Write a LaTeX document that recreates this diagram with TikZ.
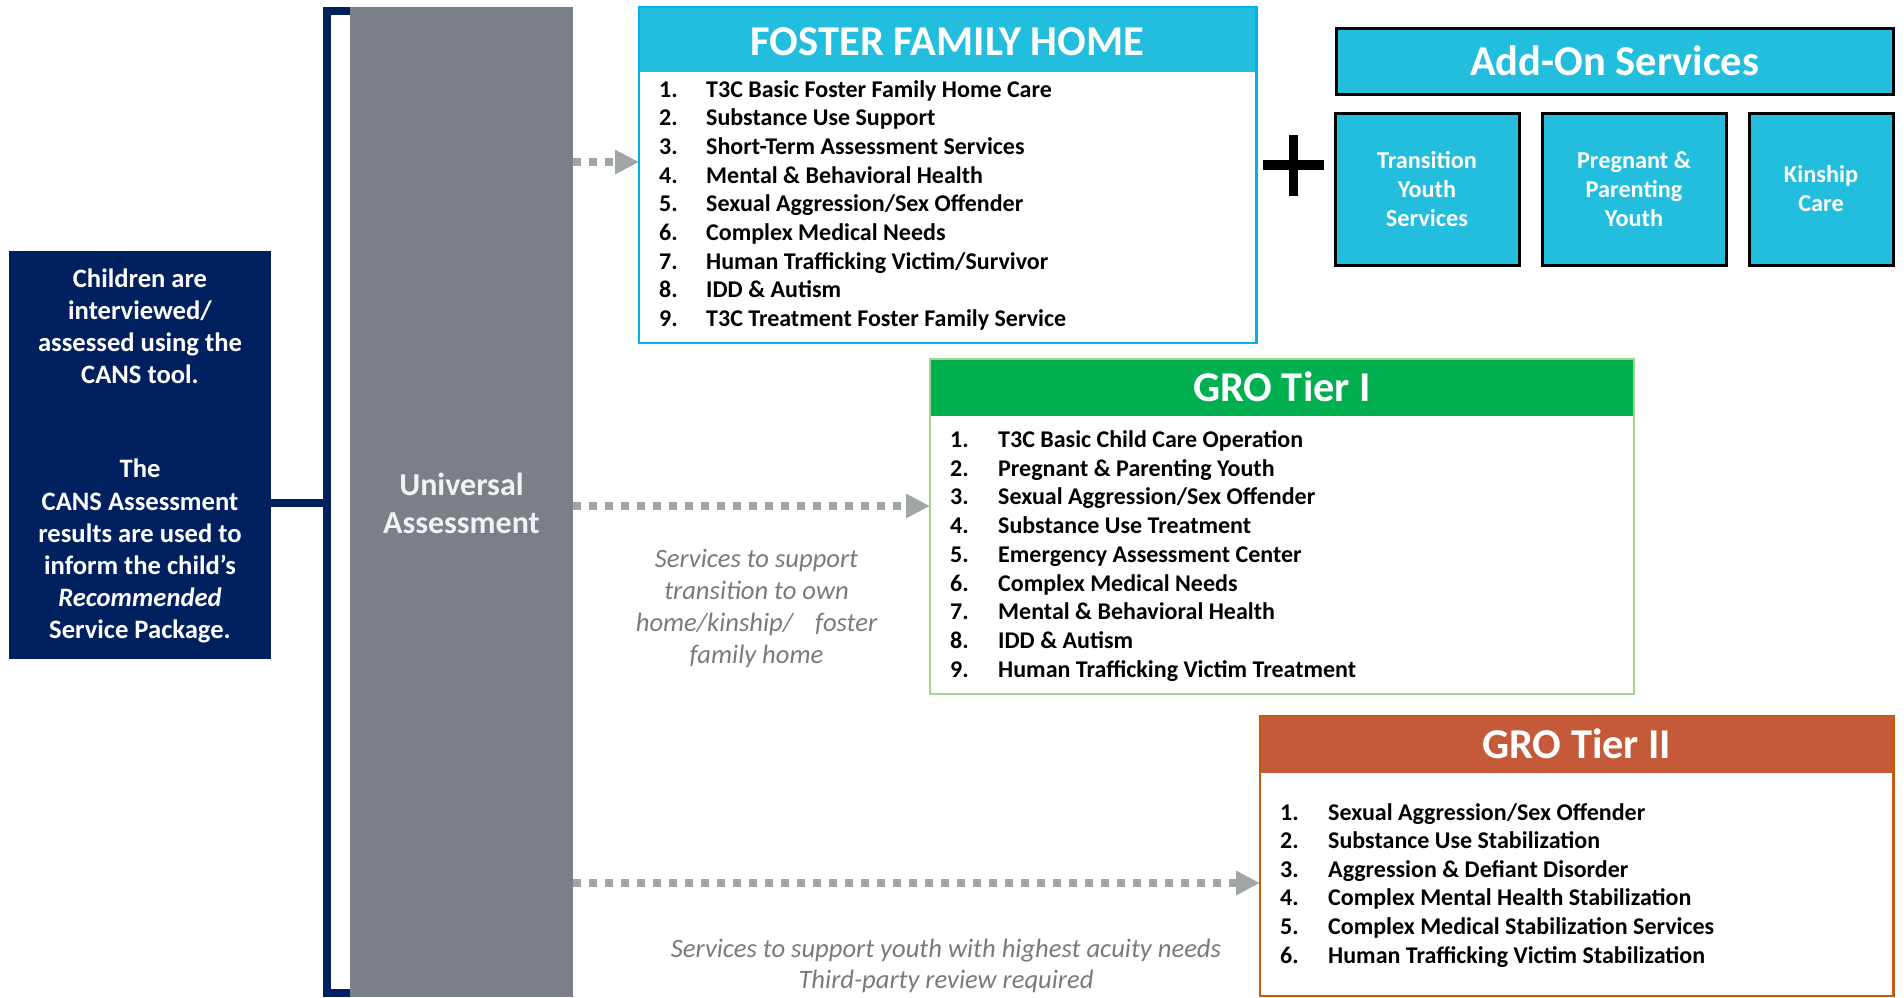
\documentclass[tikz,border=0pt]{standalone}
\usepackage{fontspec}
\setmainfont{Carlito}
\usetikzlibrary{arrows.meta}
\definecolor{navy}{HTML}{002060}
\definecolor{barg}{HTML}{7B7F87}
\definecolor{cyanh}{HTML}{23BDDD}
\definecolor{cyanb}{HTML}{00B0F0}
\definecolor{greenh}{HTML}{00B050}
\definecolor{greenb}{HTML}{A9D18E}
\definecolor{rusth}{HTML}{C55A3A}
\definecolor{rustb}{HTML}{C55A11}
\definecolor{dotg}{HTML}{A0A5A5}
\definecolor{itg}{HTML}{7A7A7A}
\newcommand{\myfs}[2]{\fontsize{#1}{#2}\selectfont}
\begin{document}
\begin{tikzpicture}[x=1pt,y=-1pt,
  rect/.style={anchor=north west, inner sep=0pt, outer sep=0pt},
  itm/.style={anchor=base west, inner sep=0pt, font=\bfseries\myfs{24}{28}},
  navtxt/.style={anchor=base, inner sep=0pt, text=white, font=\bfseries\myfs{26.6}{32}},
  ttl/.style={anchor=base, inner sep=0pt, text=white, font=\bfseries\myfs{42.5}{48}},
  small/.style={anchor=base, inner sep=0pt, text=white, font=\bfseries\myfs{24.3}{29}},
  ital/.style={anchor=base, inner sep=0pt, text=itg, font=\itshape\myfs{26.6}{32}},
  arr/.style={draw=dotg, line width=8pt, dash pattern=on 8pt off 8pt,
    -{Triangle[length=24pt,width=23pt,fill=dotg]}},
  addbox/.style={rect, draw=black, line width=3pt, fill=cyanh}
]
\useasboundingbox (0,0) rectangle (1904,997);

% bracket and grey bar
\draw[navy, line width=8pt] (352,11) -- (327,11) -- (327,993) -- (352,993);
\node[rect, fill=barg, minimum width=223pt, minimum height=990pt] (gbar) at (350,7) {};
\node[anchor=base, inner sep=0pt, text={rgb,255:red,242;green,242;blue,242}, font=\bfseries\myfs{32}{38}] (ua1) at (461.5,495) {Universal};
\node[anchor=base, inner sep=0pt, text={rgb,255:red,242;green,242;blue,242}, font=\bfseries\myfs{32}{38}] (ua2) at (461.5,533) {Assessment};

% navy box
\node[rect, fill=navy, minimum width=262pt, minimum height=408pt] (navy) at (9,251) {};
\coordinate (brk) at (327,502.5);
\draw[navy, line width=8pt] (navy.east |- brk) -- (brk);
\node[navtxt] (n1) at (140,287) {Children are};
\node[navtxt] (n2) at (140,319) {interviewed/};
\node[navtxt] (n3) at (140,351) {assessed using the};
\node[navtxt] (n4) at (140,383) {CANS tool.};
\node[navtxt] (n5) at (140,477) {The};
\node[navtxt] (n6) at (140,510) {CANS Assessment};
\node[navtxt] (n7) at (140,542) {results are used to};
\node[navtxt] (n8) at (140,574) {inform the child’s};
\node[navtxt] (n9) at (140,606) {\itshape Recommended};
\node[navtxt] (n10) at (140,638) {Service Package.};

% Foster family home
\node[rect, fill=cyanh, minimum width=617.5pt, minimum height=65pt] (ffhh) at (639,7) {};
\node[rect, draw=cyanb, line width=2.5pt, minimum width=617.5pt, minimum height=336pt] (ffh) at (639,7) {};
\node[ttl] (ffht) at (947.5,55.5) {FOSTER FAMILY HOME};
\foreach \t [count=\i] in {T3C Basic Foster Family Home Care,Substance Use Support,Short-Term Assessment Services,Mental \& Behavioral Health,Sexual Aggression/Sex Offender,Complex Medical Needs,Human Trafficking Victim/Survivor,IDD \& Autism,T3C Treatment Foster Family Service}{
  \node[itm] (ffn\i) at (659,{97+(\i-1)*28.7}) {\i.};
  \node[itm] (fft\i) at (706,{97+(\i-1)*28.7}) {\t};
}

% plus
\draw[black, line width=10pt] (1263,165) -- (1323.5,165);
\draw[black, line width=9pt] (1293,135) -- (1293,196);

% Add-on services
\node[addbox, minimum width=557.5pt, minimum height=66pt] (addh) at (1336,28) {};
\node[ttl] (addt) at (1614.75,75.5) {Add-On Services};
\node[addbox, minimum width=184.5pt, minimum height=152pt] (ab1) at (1335,113) {};
\node[addbox, minimum width=184pt, minimum height=152pt] (ab2) at (1542,113) {};
\node[addbox, minimum width=144.5pt, minimum height=152pt] (ab3) at (1749,113) {};
\node[small] (ab1a) at (1427,168) {Transition};
\node[small] (ab1b) at (1427,197) {Youth};
\node[small] (ab1c) at (1427,226) {Services};
\node[small] (ab2a) at (1634,168) {Pregnant \&};
\node[small] (ab2b) at (1634,197) {Parenting};
\node[small] (ab2c) at (1634,226) {Youth};
\node[small] (ab3a) at (1821,182) {Kinship};
\node[small] (ab3b) at (1821,211) {Care};

% GRO Tier I
\node[rect, fill=greenh, minimum width=704pt, minimum height=57pt] (g1h) at (930,359) {};
\node[rect, draw=greenb, line width=2.5pt, minimum width=704pt, minimum height=335pt] (g1) at (930,359) {};
\node[ttl] (g1t) at (1282,401.5) {GRO Tier I};
\foreach \t [count=\i] in {T3C Basic Child Care Operation,Pregnant \& Parenting Youth,Sexual Aggression/Sex Offender,Substance Use Treatment,Emergency Assessment Center,Complex Medical Needs,Mental \& Behavioral Health,IDD \& Autism,Human Trafficking Victim Treatment}{
  \node[itm] (g1n\i) at (950,{447.5+(\i-1)*28.7}) {\i.};
  \node[itm] (g1t\i) at (998,{447.5+(\i-1)*28.7}) {\t};
}

% GRO Tier II
\node[rect, fill=rusth, minimum width=633.5pt, minimum height=57pt] (g2h) at (1260,716) {};
\node[rect, draw=rustb, line width=2.5pt, minimum width=633.5pt, minimum height=280pt] (g2) at (1260,716) {};
\node[ttl] (g2t) at (1576.75,758) {GRO Tier II};
\foreach \t [count=\i] in {Sexual Aggression/Sex Offender,Substance Use Stabilization,Aggression \& Defiant Disorder,Complex Mental Health Stabilization,Complex Medical Stabilization Services,Human Trafficking Victim Stabilization}{
  \node[itm] (g2n\i) at (1280,{820+(\i-1)*28.6}) {\i.};
  \node[itm] (g2t\i) at (1328,{820+(\i-1)*28.6}) {\t};
}

% arrows
\coordinate (a1) at (573,162);
\coordinate (a2) at (573,506);
\coordinate (a3) at (573,883);
\draw[arr] (gbar.east |- a1) -- (ffh.west |- a1);
\draw[arr] (gbar.east |- a2) -- (g1.west |- a2);
\draw[arr] (gbar.east |- a3) -- (g2.west |- a3);

% italic notes
\node[ital] (s1) at (756.5,567) {Services to support};
\node[ital] (s2) at (756.5,599) {transition to own};
\node[ital] (s3) at (756.5,631) {home/kinship/\hspace{22pt}foster};
\node[ital] (s4) at (756.5,663) {family home};
\node[ital] (b1) at (946,957) {Services to support youth with highest acuity needs};
\node[ital] (b2) at (946,988) {Third-party review required};
\end{tikzpicture}
\end{document}
